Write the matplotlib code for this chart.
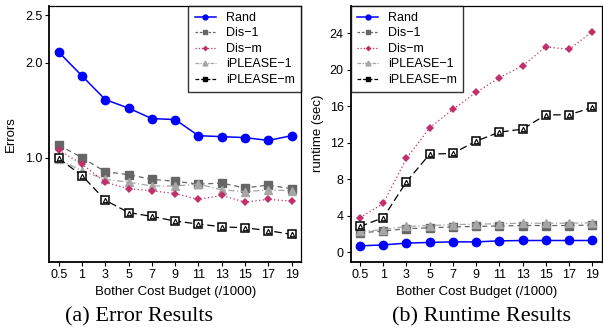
import numpy as np
import matplotlib.pyplot as plt
from matplotlib.lines import Line2D

plt.rcParams['font.family'] = ['Liberation Sans', 'DejaVu Sans']

budgets = ["0.5", "1", "3", "5", "7", "9", "11", "13", "15", "17", "19"]

# error results
err_rand = [2.11, 1.86, 1.61, 1.52, 1.41, 1.40, 1.23, 1.22, 1.21, 1.18, 1.23]
err_dis1 = [1.13, 1.00, 0.85, 0.82, 0.77, 0.75, 0.72, 0.73, 0.68, 0.71, 0.67]
err_dism = [1.08, 0.93, 0.74, 0.67, 0.65, 0.62, 0.56, 0.60, 0.53, 0.56, 0.54]
err_ipl1 = [0.98, 0.86, 0.77, 0.74, 0.70, 0.70, 0.72, 0.66, 0.64, 0.66, 0.65]
err_iplm = [0.99, 0.81, 0.55, 0.42, 0.38, 0.33, 0.30, 0.27, 0.26, 0.23, 0.19]

# runtime results (sec)
rt_rand = [0.72, 0.83, 1.02, 1.10, 1.16, 1.16, 1.27, 1.31, 1.31, 1.31, 1.31]
rt_dis1 = [2.15, 2.35, 2.60, 2.70, 2.80, 2.85, 2.90, 2.95, 2.95, 2.95, 3.00]
rt_dism = [3.80, 5.37, 10.3, 13.66, 15.67, 17.53, 19.14, 20.45, 22.53, 22.25, 24.18]
rt_ipl1 = [2.30, 2.50, 2.85, 2.95, 3.05, 3.10, 3.15, 3.20, 3.20, 3.20, 3.25]
rt_iplm = [2.85, 3.80, 7.74, 10.77, 10.85, 12.2, 13.18, 13.51, 15.08, 15.08, 15.89]

names = ["Rand", "Dis\u22121", "Dis\u2212m", "iPLEASE\u22121", "iPLEASE\u2212m"]

x = np.arange(1, len(budgets) + 1)

C_RAND = "#0000ff"
C_DIS1 = "#666666"
C_DISM = "#c0306a"
C_IPL1 = "#a6a6a6"
C_IPLM = "#000000"


def draw(ax, rand, dis1, dism, ipl1, iplm):
    ax.plot(x, dis1, color=C_DIS1, ls=(0, (4, 3)), lw=0.9,
            marker="s", ms=5.5, mfc=C_DIS1, mec=C_DIS1, zorder=2)
    ax.plot(x, ipl1, color=C_IPL1, ls=(0, (5, 2, 1, 2)), lw=0.9,
            marker="^", ms=6, mfc=C_IPL1, mec=C_IPL1, zorder=3)
    ax.plot(x, dism, color=C_DISM, ls=(0, (1, 2)), lw=0.9,
            marker="D", ms=3.8, mfc=C_DISM, mec=C_DISM, mew=0, zorder=4)
    ax.plot(x, iplm, color=C_IPLM, ls=(0, (6, 3)), lw=0.9,
            marker="s", ms=6, mfc="white", mec="black", mew=1.1, zorder=5)
    ax.plot(x, iplm, ls="none", marker="^", ms=3.2, mfc="white",
            mec="black", mew=0.8, zorder=6)
    ax.plot(x, rand, color=C_RAND, lw=1.1, marker="o", ms=6,
            mfc=C_RAND, mec=C_RAND, zorder=7)

    ax.set_xlim(0.6, 11.4)
    ax.set_xticks(x)
    ax.set_xticklabels(budgets)
    ax.set_xlabel("Bother Cost Budget (/1000)", fontsize=9.5, labelpad=4)
    ax.tick_params(labelsize=9, length=3, width=0.8, pad=2)
    for s in ax.spines.values():
        s.set_color("black")
        s.set_linewidth(0.9)
    ax.spines["left"].set_linewidth(1.3)
    ax.spines["bottom"].set_linewidth(1.3)


def legend_handles():
    return [
        Line2D([], [], color=C_RAND, lw=1.1, marker="o", ms=3.5),
        Line2D([], [], color=C_DIS1, ls=(0, (2, 1.5)), lw=0.9, marker="s", ms=3.5),
        Line2D([], [], color=C_DISM, ls=(0, (1, 1.5)), lw=0.9, marker="D", ms=3, mew=0),
        Line2D([], [], color=C_IPL1, ls=(0, (3, 1, 1, 1)), lw=0.9, marker="^", ms=3.5),
        Line2D([], [], color=C_IPLM, ls=(0, (3, 1.5)), lw=0.9, marker="s", ms=3.5),
    ]


def add_legend(ax, loc):
    leg = ax.legend(legend_handles(), names, loc=loc, fontsize=9,
                    frameon=True, fancybox=False, edgecolor="black",
                    handlelength=1.7, handletextpad=0.8, labelspacing=0.28,
                    borderpad=0.5, borderaxespad=0)
    leg.get_frame().set_linewidth(1.0)
    return leg


fig = plt.figure(figsize=(6.03, 3.32), dpi=100)
ax1 = fig.add_axes([0.082, 0.211, 0.417, 0.772])
ax2 = fig.add_axes([0.5816, 0.211, 0.416, 0.772])

draw(ax1, err_rand, err_dis1, err_dism, err_ipl1, err_iplm)
ax1.set_ylim(-0.1, 2.6)
ax1.set_yticks([1.0, 2.0, 2.5])
ax1.set_yticklabels(["1.0", "2.0", "2.5"])
ax1.set_ylabel("Errors", fontsize=9.5, labelpad=6)
add_legend(ax1, "upper right")

draw(ax2, rt_rand, rt_dis1, rt_dism, rt_ipl1, rt_iplm)
ax2.set_ylim(-1.04, 27.04)
ax2.set_yticks(np.arange(0, 25, 4))
ax2.set_ylabel("runtime (sec)", fontsize=9.5, labelpad=4)
add_legend(ax2, "upper left")

fig.text(139 / 603, 1 - 317 / 332, "(a) Error Results", ha="center", va="center",
         fontsize=16, family="Liberation Serif")
fig.text(482 / 603, 1 - 317 / 332, "(b) Runtime Results", ha="center", va="center",
         fontsize=16, family="Liberation Serif")

fig.savefig("out.png", dpi=100)
